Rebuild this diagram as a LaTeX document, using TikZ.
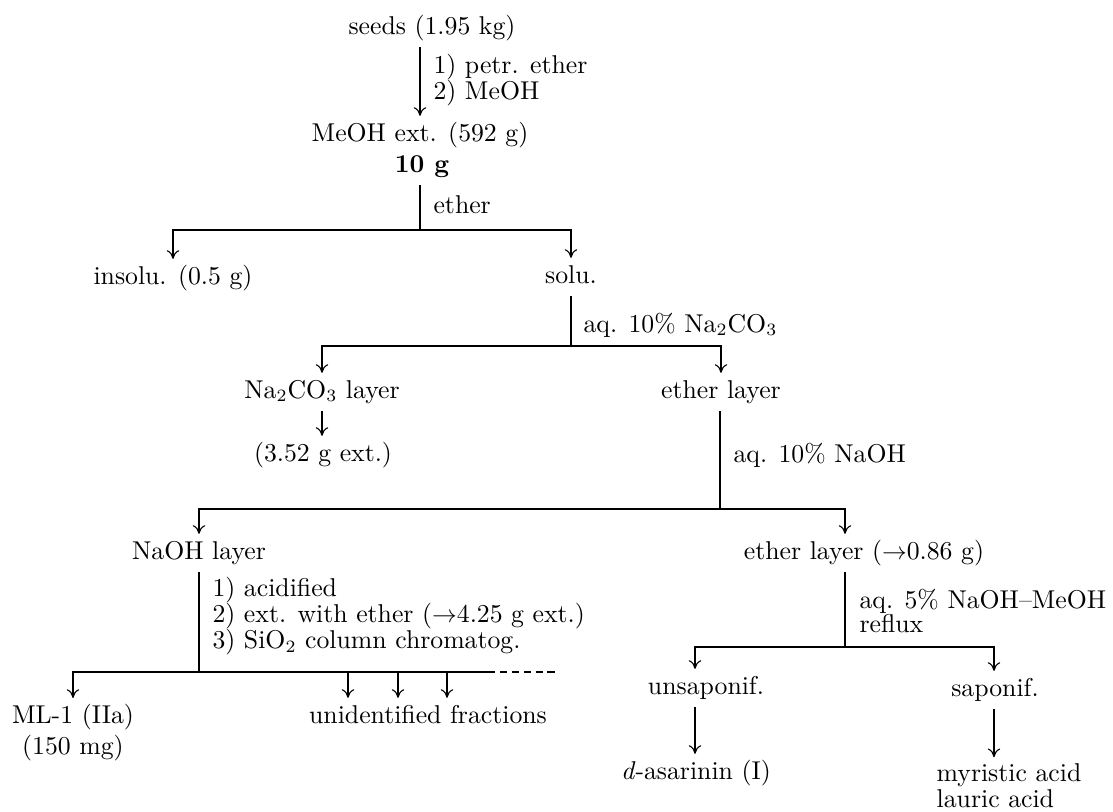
\documentclass[tikz,border=0pt]{standalone}
\usepackage{amsmath}
\usepackage{tikz}
\usetikzlibrary{arrows.meta}

\begin{document}
\begin{tikzpicture}[x=0.404pt, y=-0.404pt, >={To[length=3.5pt,width=5pt]}, line width=0.45pt,
	every node/.style={font=\fontsize{10.4}{12.5}\selectfont, inner sep=2.5pt},
	sub/.style={text height=7.5pt, text depth=2.5pt},
	cond/.style={anchor=west, align=left, inner sep=0pt}]
	\useasboundingbox (0,0) rectangle (1113,811);
	% fractions
	\node[sub] (seeds) at (432,28) {seeds (1.95 kg)};
	\node[sub] (meoh) at (420,135) {MeOH ext. (592 g)};
	\node[sub] (tenG) at (422,166) {\textbf{10 g}};
	\node[sub] (insolu) at (173,278) {insolu. (0.5 g)};
	\node[sub] (solu) at (571,277) {solu.};
	\node[sub] (naco) at (322,392) {Na$_2$CO$_3$ layer};
	\node[sub] (etherA) at (721,392) {ether layer};
	\node[sub] (ext) at (323,455) {(3.52 g ext.)};
	\node[sub] (naoh) at (199,553) {NaOH layer};
	\node[sub] (etherB) at (864,553) {ether layer ($\rightarrow$0.86 g)};
	\node[align=center] (ml) at (73,733) {ML-1 (IIa)\\(150 mg)};
	\node[sub] (unid) at (428,717) {unidentified fractions};
	\node[sub] (unsap) at (706,688) {unsaponif.};
	\node[sub] (sap) at (995,690) {saponif.};
	\node[sub] (asar) at (696,773) {\textit{d}-asarinin (I)};
	\node[align=left] (acids) at (1009,786) {myristic acid\\[-2pt]lauric acid};
	% reagents
	\node[cond] (petr) at (433,80) {1) petr. ether\\[-2pt]2) MeOH};
	\node[cond] (eth) at (433,205) {ether};
	\node[cond] (carb) at (583,325) {aq. 10\% Na$_2$CO$_3$};
	\node[cond] (hyd) at (733,455) {aq. 10\% NaOH};
	\node[cond] (acid) at (212,616) {1) acidified\\[-2pt]2) ext. with ether ($\rightarrow$4.25 g ext.)\\[-2pt]3) SiO$_2$ column chromatog.};
	\node[cond] (sapon) at (859,611) {aq. 5\% NaOH--MeOH\\[-3pt]reflux};
	% connectors
	\draw[->] (seeds.south -| meoh.north) -- (meoh.north);
	\coordinate (s1) at (420,230);
	\draw (tenG.south -| s1) -- (s1);
	\draw[->] (s1) -| (insolu.north);
	\draw[->] (s1) -| (solu.north);
	\coordinate (s2) at (571,346);
	\draw (solu.south) -- (s2);
	\draw[->] (s2) -| (naco.north);
	\draw[->] (s2) -| (etherA.north);
	\draw[->] (naco.south) -- (naco.south |- ext.north);
	\coordinate (s3) at (720,509);
	\coordinate (c3) at (845,509);
	\draw (etherA.south -| s3) -- (s3);
	\draw[->] (s3) -| (naoh.north);
	\draw[->] (s3) -| (c3 |- etherB.north);
	\coordinate (s4) at (199,672);
	\coordinate (s4r) at (488,672);
	\coordinate (s4d) at (556,672);
	\draw (naoh.south) -- (s4);
	\draw[->] (s4) -| (ml.north);
	\draw (s4) -- (s4r);
	\draw[dash pattern=on 3pt off 1.8pt] (s4r) -- (s4d);
	\foreach \i/\x in {1/348,2/398,3/447} {
		\coordinate (f\i) at (\x,672);
		\draw[->] (f\i) -- (f\i |- unid.north);
	}
	\coordinate (s5) at (845,647);
	\coordinate (c5l) at (695,647);
	\coordinate (c5r) at (994,647);
	\draw (etherB.south -| s5) -- (s5);
	\draw[->] (s5) -| (c5l |- unsap.north);
	\draw[->] (s5) -| (c5r |- sap.north);
	\draw[->] (unsap.south -| c5l) -- (c5l |- asar.north);
	\draw[->] (sap.south -| c5r) -- (c5r |- acids.north);
\end{tikzpicture}
\end{document}
